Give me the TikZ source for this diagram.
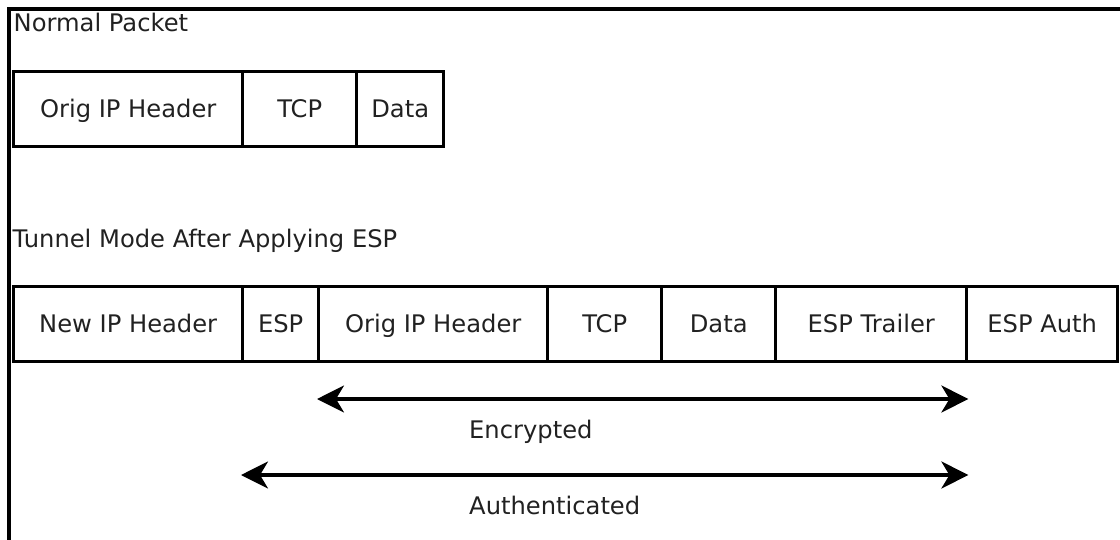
\documentclass[tikz,border=0pt]{standalone}
\usepackage{fontspec}
\setmainfont{DejaVu Sans}
\usetikzlibrary{arrows.meta,calc}
\definecolor{textcol}{gray}{0.13}
\begin{document}
\begin{tikzpicture}[x=1pt,y=-1pt,
  every node/.style={text=textcol, font=\fontsize{24.2pt}{28pt}\selectfont},
  field/.style={draw=black, line width=3.4pt, minimum height=75pt, inner sep=0pt,
    anchor=north west, text height=17.5pt, text depth=0pt},
  title/.style={anchor=base west, inner sep=0pt},
  span/.style={line width=3.3pt, {Stealth[length=27pt,width=27pt,inset=8pt]}-{Stealth[length=27pt,width=27pt,inset=8pt]}}
]
\useasboundingbox (0,0) rectangle (1120,539);
% frame
\draw[line width=3.4pt] (9,545) -- (9,9) -- (1125,9);

% Normal packet
\node[title] (t1) at (13.5,31) {Normal Packet};
\node[field, minimum width=229pt] (n1) at (12,70) {Orig IP Header};
\node[field, minimum width=114pt] (n2) at (241,70) {TCP};
\node[field, minimum width=87pt]  (n3) at (355,70) {Data};

% Tunnel mode
\node[title] (t2) at (12.5,247) {Tunnel Mode After Applying ESP};
\node[field, minimum width=229pt] (m1) at (12,285) {New IP Header};
\node[field, minimum width=76pt]  (m2) at (241,285) {ESP};
\node[field, minimum width=229pt] (m3) at (317,285) {Orig IP Header};
\node[field, minimum width=114pt] (m4) at (546,285) {TCP};
\node[field, minimum width=114pt] (m5) at (660,285) {Data};
\node[field, minimum width=191pt] (m6) at (774,285) {ESP Trailer};
\node[field, minimum width=151pt] (m7) at (965,285) {ESP Auth};

% spans
\coordinate (encY) at (0,399);
\coordinate (autY) at (0,475);
\draw[span] (m3.west |- encY) -- (m6.east |- encY);
\draw[span] (m2.west |- autY) -- (m6.east |- autY);
\node[title] (enc) at (469,438) {Encrypted};
\node[title] (aut) at (469,514) {Authenticated};
\end{tikzpicture}
\end{document}
